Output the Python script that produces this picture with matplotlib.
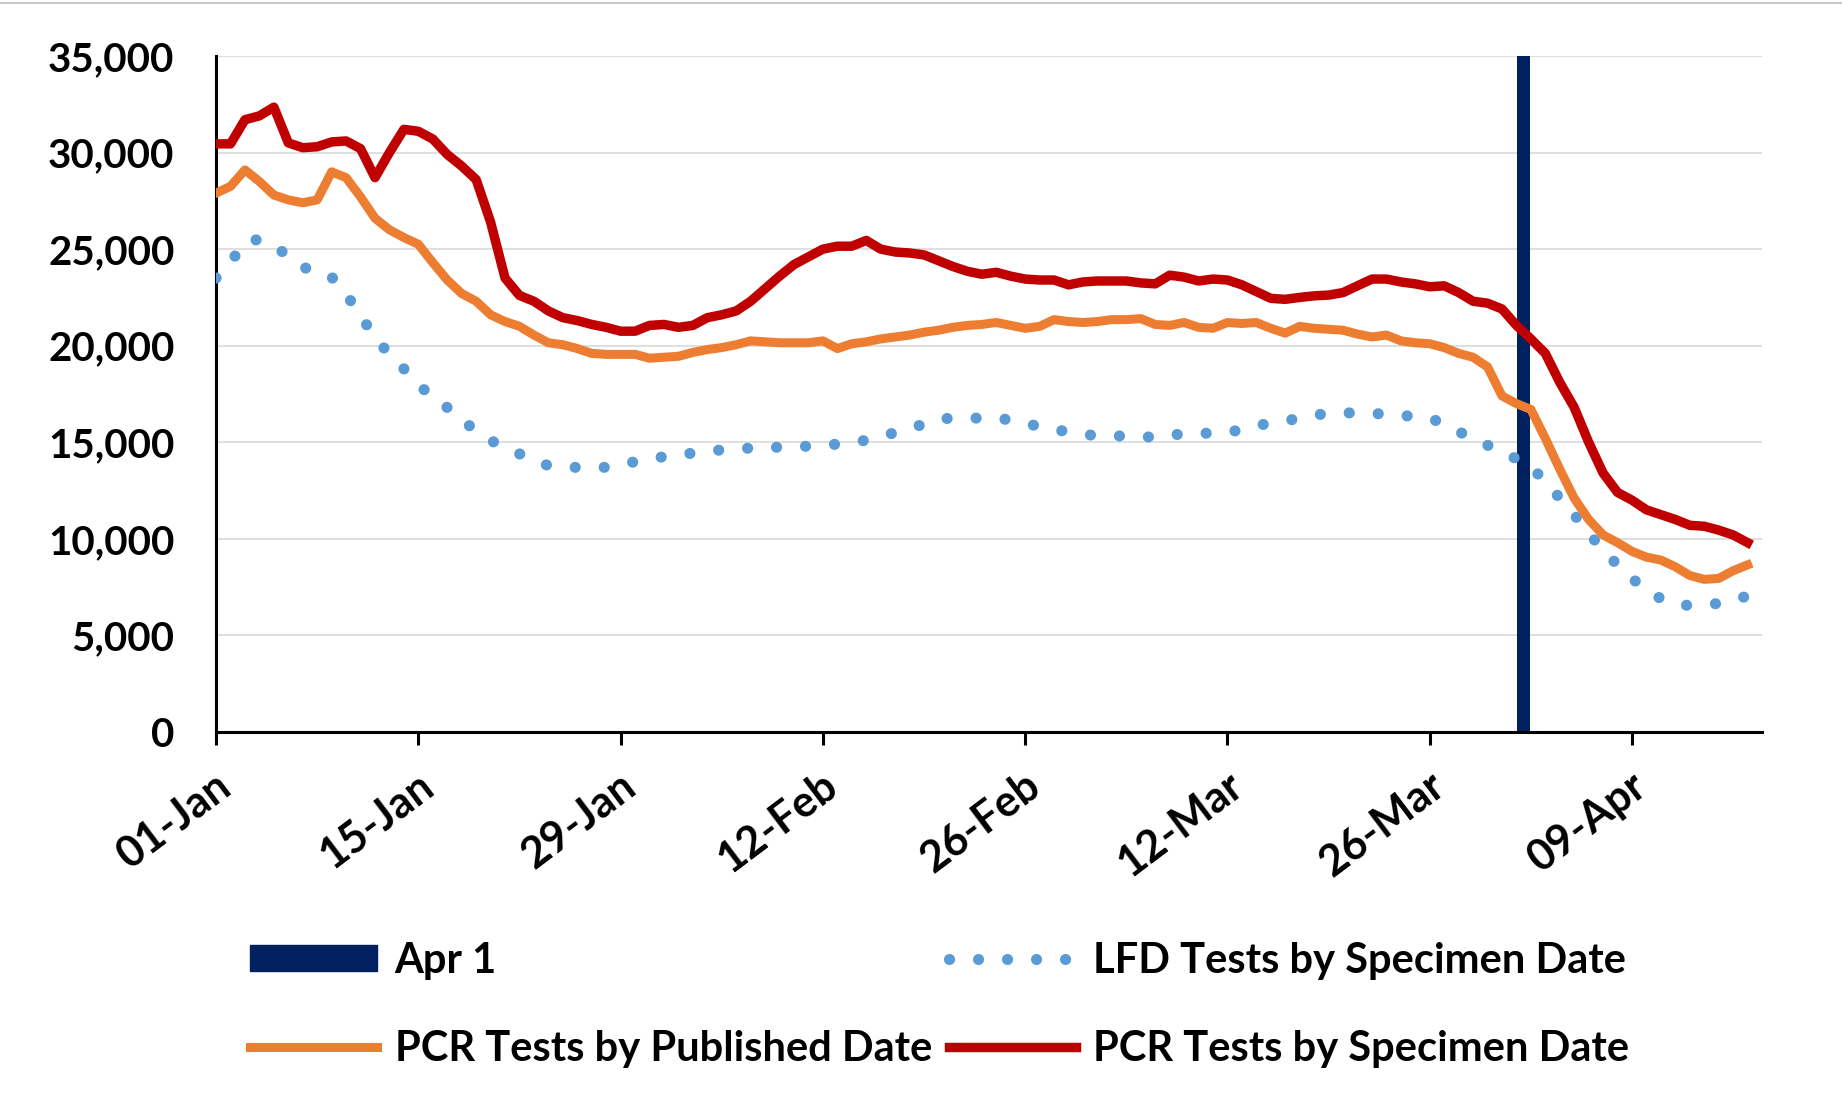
import numpy as np
import matplotlib.pyplot as plt
import matplotlib.transforms as mtransforms
from matplotlib.patches import Patch
from matplotlib.lines import Line2D

plt.rcParams['font.family'] = ['Lato', 'DejaVu Sans']
plt.rcParams['font.weight'] = 'bold'

# days since 01-Jan
days = np.arange(107)

pcr_specimen = [
    30450, 30450, 31700, 31900, 32350, 30500, 30250, 30300, 30550, 30600,
    30200, 28700, 30000, 31200, 31100, 30700, 29900, 29300, 28600, 26400,
    23500, 22600, 22300, 21800, 21450, 21300, 21100, 20950, 20750, 20750,
    21050, 21100, 20950, 21050, 21450, 21600, 21800, 22300, 22950, 23600,
    24200, 24600, 25000, 25150, 25150, 25450, 25000, 24850, 24800, 24700,
    24400, 24100, 23850, 23700, 23800, 23600, 23450, 23400, 23400, 23150,
    23300, 23350, 23350, 23350, 23250, 23200, 23650, 23550, 23350, 23450,
    23400, 23150, 22800, 22450, 22400, 22500, 22580, 22620, 22750, 23100,
    23450, 23450, 23300, 23200, 23050, 23100, 22750, 22300, 22200, 21900,
    21050, 20350, 19600, 18100, 16800, 15000, 13400, 12400, 12000, 11500,
    11250, 11000, 10700, 10650, 10450, 10200, 9800,
]

pcr_published = [
    27900, 28250, 29100, 28500, 27800, 27550, 27400, 27550, 29000, 28700,
    27700, 26600, 26000, 25600, 25250, 24300, 23400, 22700, 22300, 21600,
    21250, 21000, 20550, 20150, 20050, 19850, 19600, 19550, 19550, 19550,
    19350, 19400, 19450, 19650, 19800, 19900, 20050, 20250, 20200, 20150,
    20150, 20150, 20250, 19850, 20100, 20200, 20350, 20450, 20550, 20700,
    20800, 20950, 21050, 21100, 21200, 21050, 20900, 21000, 21350, 21250,
    21200, 21250, 21350, 21350, 21400, 21100, 21050, 21200, 20950, 20900,
    21200, 21150, 21200, 20900, 20650, 21000, 20900, 20850, 20800, 20600,
    20450, 20550, 20250, 20150, 20100, 19900, 19600, 19400, 18900, 17400,
    17000, 16700, 15200, 13600, 12100, 11000, 10200, 9800, 9350, 9050,
    8900, 8550, 8100, 7900, 7950, 8350, 8650,
]

lfd_specimen = [
    23500, 24300, 25400, 25500, 25100, 24700, 24100, 23700, 23550, 22700,
    21500, 20500, 19500, 18800, 18000, 17300, 16800, 16150, 15600, 15100,
    14700, 14400, 14000, 13800, 13700, 13700, 13700, 13700, 13800, 14000,
    14150, 14250, 14300, 14450, 14550, 14600, 14650, 14700, 14700, 14750,
    14750, 14800, 14850, 14900, 15000, 15100, 15300, 15500, 15700, 15950,
    16200, 16250, 16250, 16250, 16250, 16150, 16000, 15800, 15650, 15550,
    15400, 15350, 15330, 15320, 15300, 15250, 15350, 15450, 15460, 15470,
    15520, 15650, 15850, 16000, 16100, 16250, 16400, 16500, 16520, 16520,
    16480, 16470, 16400, 16320, 16250, 15950, 15550, 15200, 14850, 14450,
    14150, 13700, 13000, 12100, 11250, 10300, 9400, 8650, 7950, 7350,
    6900, 6600, 6550, 6600, 6650, 6800, 7050,
]

apr1_day = [90.5]
apr1_value = [35000]

tick_days = [0, 14, 28, 42, 56, 70, 84, 98]
tick_labels = ["01-Jan", "15-Jan", "29-Jan", "12-Feb", "26-Feb", "12-Mar", "26-Mar", "09-Apr"]
y_ticks = [0, 5000, 10000, 15000, 20000, 25000, 30000, 35000]

navy = "#002060"
red = "#C00000"
orange = "#ED7D31"
blue = "#5B9BD5"
dots = (0, (0.01, 2.6))

fig = plt.figure(figsize=(18.42, 11.04), dpi=100)
ax = fig.add_axes([0.1173, 0.337, 0.8393, 0.6123])

ax.bar(apr1_day, apr1_value, width=0.9, color=navy, zorder=2)
ax.plot(days, lfd_specimen, color=blue, lw=8.0, linestyle=dots,
        dash_capstyle="round", zorder=3)
ax.plot(days, pcr_published, color=orange, lw=6.5, solid_joinstyle="round", zorder=4)
ax.plot(days, pcr_specimen, color=red, lw=6.8, solid_joinstyle="round", zorder=5)

ax.set_xlim(0, 107)
ax.set_ylim(0, 35000)
ax.set_yticks(y_ticks)
ax.set_yticklabels([f"{v:,}" for v in y_ticks])
ax.set_xticks(tick_days)
ax.set_xticklabels(tick_labels)

ax.grid(axis="y", color="#D9D9D9", lw=1.2, zorder=0)
ax.set_axisbelow(True)
for s in ["top", "right"]:
    ax.spines[s].set_visible(False)
ax.spines["left"].set_linewidth(2.2)
ax.spines["bottom"].set_linewidth(2.2)

ax.tick_params(axis="y", length=0, pad=30, labelsize=29)
ax.tick_params(axis="x", length=9, width=2.2, direction="out", pad=14, labelsize=31)
for lbl in ax.get_xticklabels():
    lbl.set_rotation(37)
    lbl.set_ha("right")
    lbl.set_va("center")
    lbl.set_rotation_mode("anchor")
    lbl.set_transform(lbl.get_transform() +
                      mtransforms.ScaledTranslation(0.10, -0.17, fig.dpi_scale_trans))

# thin grey border at the top of the picture
fig.add_artist(Line2D([0, 1], [0.997, 0.997], transform=fig.transFigure,
                      color="#c8c8c8", lw=1.5))

handles = [
    Patch(facecolor=navy, edgecolor=navy),
    Line2D([], [], color=orange, lw=6.5),
    Line2D([], [], color=blue, lw=8.0, linestyle=dots, dash_capstyle="round"),
    Line2D([], [], color=red, lw=6.8),
]
labels = ["Apr 1", "PCR Tests by Published Date",
          "LFD Tests by Specimen Date", "PCR Tests by Specimen Date"]
fig.legend(handles, labels, ncol=2, loc="upper left", bbox_to_anchor=(0.1357, 0.147),
           frameon=False, fontsize=30, handlelength=3.05, handleheight=0.6,
           handletextpad=0.42, columnspacing=0.4, labelspacing=1.2,
           borderpad=0, borderaxespad=0)

fig.savefig("out.png", dpi=100)
